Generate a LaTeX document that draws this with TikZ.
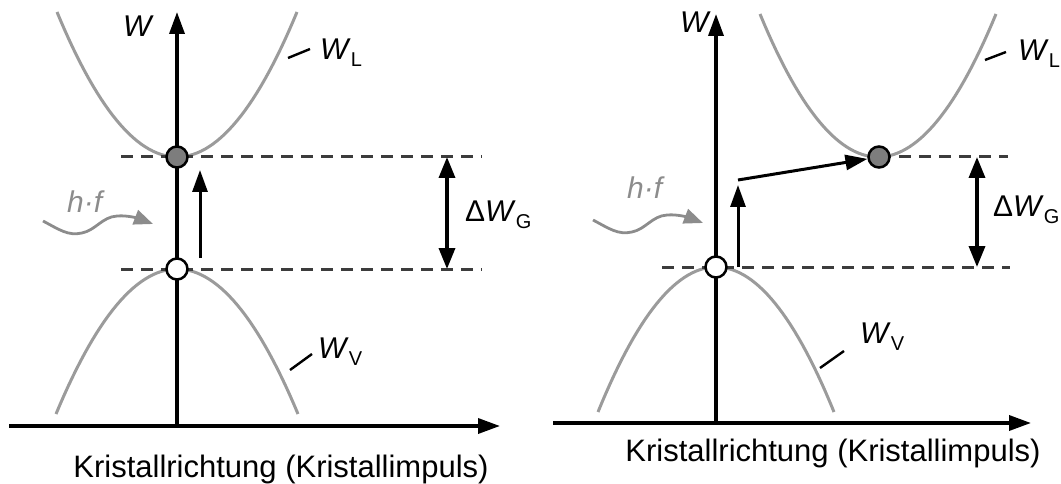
\documentclass[tikz,border=0pt]{standalone}
\usepackage{fontspec}
\setmainfont{Liberation Sans}
\usetikzlibrary{arrows.meta}
\definecolor{curvegray}{RGB}{155,155,155}
\definecolor{dashgray}{RGB}{60,60,60}
\definecolor{dotgray}{RGB}{125,125,125}
\definecolor{wavegray}{RGB}{140,140,140}
\newcommand\bandsub[1]{\raisebox{-7pt}{\fontsize{20}{20}\selectfont #1}}
\begin{document}
\begin{tikzpicture}[x=1pt,y=-1pt,
 axis/.style={line width=3.5pt,-{Triangle[length=22pt,width=15pt]}},
 band/.style={line width=3pt,curvegray},
 level/.style={line width=3pt,dashgray,dash pattern=on 12pt off 8pt},
 lab/.style={font=\fontsize{30}{30}\selectfont,inner sep=0pt,anchor=base west},
 bottomlab/.style={font=\fontsize{31}{31}\selectfont,inner sep=0pt,anchor=base},
 tickline/.style={line width=2.4pt},
 electron/.style={circle,draw,line width=2.5pt,fill=dotgray,minimum size=21pt,inner sep=0pt},
 hole/.style={circle,draw,line width=2.5pt,fill=white,minimum size=21pt,inner sep=0pt},
 excite/.style={line width=3pt,-{Triangle[length=22pt,width=15pt]}},
 gaparrow/.style={line width=3.5pt,{Triangle[length=21pt,width=16pt]}-{Triangle[length=21pt,width=16pt]}},
 photon/.style={line width=2.8pt,wavegray,-{Triangle[length=19pt,width=15pt]}},
]
\useasboundingbox (0,0) rectangle (1061,484);

% ---------------- left diagram ----------------
\draw[band] plot[domain=-120:120,samples=61] ({177+\x},{157-145*(\x/120)^2});
\draw[band] plot[domain=-121:121,samples=61] ({177+\x},{269+145*(\x/121)^2});

\coordinate (u1s) at (121,157); \coordinate (u1e) at (482,157);
\coordinate (l1s) at (121,269); \coordinate (l1e) at (482,269);
\draw[level] (u1s) -- (u1e);
\draw[level] (l1s) -- (l1e);

\coordinate (y1s) at (177,426); \coordinate (y1e) at (177,12);
\coordinate (x1s) at (9,426);   \coordinate (x1e) at (500,426);
\draw[axis] (y1s) -- (y1e);
\draw[axis] (x1s) -- (x1e);

\node[electron] (e1) at (177,157) {};
\node[hole] (h1) at (177,269) {};

\coordinate (a1s) at (200,258); \coordinate (a1e) at (200,170);
\draw[excite] (a1s) -- (a1e);

\coordinate (g1t) at (447,157); \coordinate (g1b) at (447,269);
\draw[gaparrow] (g1t) -- (g1b);
\node[lab] (dg1) at (465,222) {Δ\textit{W}\bandsub{G}};

\coordinate (t1a) at (288,58); \coordinate (t1b) at (310,49);
\draw[tickline] (t1a) -- (t1b);
\node[lab] (wl1) at (320,60) {\textit{W}\bandsub{L}};
\coordinate (t2a) at (290,370); \coordinate (t2b) at (312,354);
\draw[tickline] (t2a) -- (t2b);
\node[lab] (wv1) at (318,358) {\textit{W}\bandsub{V}};

\node[lab] (w1) at (123,37) {\textit{W}};

\coordinate (p1s) at (43,221); \coordinate (p1e) at (153,224);
\draw[photon] (p1s) .. controls (60,230) and (68,236) .. (82,233)
  .. controls (96,230) and (102,217) .. (117,216)
  .. controls (128,215) and (140,219) .. (p1e);
\node[lab,text=wavegray] (hf1) at (67,213) {\textit{h·f}};

\node[bottomlab] (k1) at (281,477) {Kristallrichtung (Kristallimpuls)};

% ---------------- right diagram ----------------
\draw[band] plot[domain=-118:118,samples=61] ({878+\x},{157-143*(\x/118)^2});
\draw[band] plot[domain=-118:118,samples=61] ({716+\x},{267+145*(\x/118)^2});

\coordinate (u2s) at (879,157); \coordinate (u2e) at (1008,157);
\coordinate (l2s) at (662,267); \coordinate (l2e) at (1010,267);
\draw[level] (u2s) -- (u2e);
\draw[level] (l2s) -- (l2e);

\coordinate (y2s) at (716,423); \coordinate (y2e) at (716,14);
\coordinate (x2s) at (553,423); \coordinate (x2e) at (1031,423);
\draw[axis] (y2s) -- (y2e);
\draw[axis] (x2s) -- (x2e);

\node[electron] (e2) at (879,157) {};
\node[hole] (h2) at (716,267) {};

\coordinate (a2s) at (738,267); \coordinate (a2e) at (738,185);
\draw[excite] (a2s) -- (a2e);
\coordinate (s2s) at (738,180);
\draw[excite] (s2s) -- (e2);

\coordinate (g2t) at (977,157); \coordinate (g2b) at (977,267);
\draw[gaparrow] (g2t) -- (g2b);
\node[lab] (dg2) at (993,216) {Δ\textit{W}\bandsub{G}};

\coordinate (t3a) at (985,60); \coordinate (t3b) at (1006,52);
\draw[tickline] (t3a) -- (t3b);
\node[lab] (wl2) at (1018,61) {\textit{W}\bandsub{L}};
\coordinate (t4a) at (820,368); \coordinate (t4b) at (844,351);
\draw[tickline] (t4a) -- (t4b);
\node[lab] (wv2) at (860,343) {\textit{W}\bandsub{V}};

\node[lab] (w2) at (680,33) {\textit{W}};

\coordinate (p2s) at (593,220); \coordinate (p2e) at (703,223);
\draw[photon] (p2s) .. controls (610,229) and (618,235) .. (632,232)
  .. controls (646,229) and (652,216) .. (667,215)
  .. controls (678,214) and (690,218) .. (p2e);
\node[lab,text=wavegray] (hf2) at (627,198) {\textit{h·f}};

\node[bottomlab] (k2) at (833,461) {Kristallrichtung (Kristallimpuls)};
\end{tikzpicture}
\end{document}
